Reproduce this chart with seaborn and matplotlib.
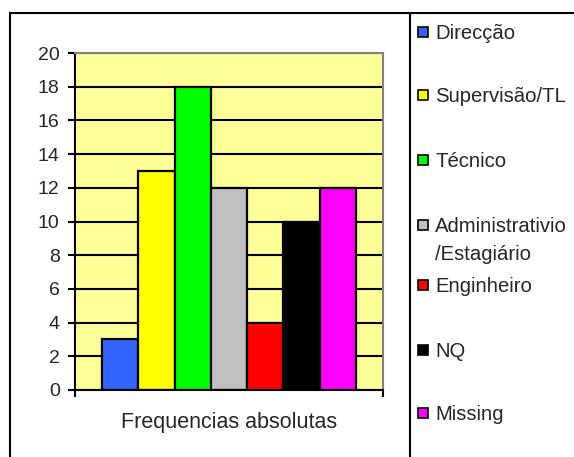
import matplotlib
matplotlib.use("Agg")
import matplotlib.pyplot as plt
from matplotlib.patches import Rectangle
from matplotlib.lines import Line2D
import seaborn as sns
import pandas as pd

# dados
categorias = ['Direcção', 'Supervisão/TL', 'Técnico', 'Administrativio\n/Estagiário',
              'Enginheiro', 'NQ', 'Missing']
valores = [3, 13, 18, 12, 4, 10, 12]
cores = ['#3366FF', '#FFFF00', '#00FF00', '#C0C0C0', '#FF0000', '#000000', '#FF00FF']
grupo = 'Frequencias absolutas'
y_ticks = [0, 2, 4, 6, 8, 10, 12, 14, 16, 18, 20]

df = pd.DataFrame({'grupo': [grupo] * len(valores), 'valor': valores, 'categoria': categorias})

sns.set_style('white')
plt.rcParams['font.family'] = ['Liberation Sans', 'DejaVu Sans']

W, H = 574, 457
fig = plt.figure(figsize=(W / 100, H / 100), dpi=100)

def fx(px):
    return px / W

def fy(py):
    return 1 - py / H

FS = 15.5      # tamanho da letra (pt)
FS_LEG = 14.6  # legenda, um pouco menor para caber

# area do grafico
ax = fig.add_axes([fx(75), fy(390), fx(383) - fx(75), fy(53) - fy(390)])
ax.set_facecolor('#FFFF99')
sns.barplot(data=df, x='grupo', y='valor', hue='categoria', palette=cores,
            hue_order=categorias, width=0.8, edgecolor='black', linewidth=1.6,
            saturation=1, legend=False, ax=ax)

ax.set_ylim(0, 20)
ax.set_xlim(-0.485, 0.485)
ax.set_yticks(y_ticks)
ax.yaxis.grid(True, color='black', linewidth=1.5)
ax.set_axisbelow(True)
ax.set_xlabel('')
ax.set_ylabel('')

for s in ['top', 'right']:
    ax.spines[s].set_color('#808080')
    ax.spines[s].set_linewidth(1.5)
for s in ['left', 'bottom']:
    ax.spines[s].set_color('black')
    ax.spines[s].set_linewidth(1.5)

ax.tick_params(axis='y', direction='out', length=5, width=1.5, color='black',
               labelsize=14, pad=6, left=True)
ax.tick_params(axis='x', which='major', length=0, labelsize=FS, pad=16)
ax.set_xticks([-0.485, 0.485], minor=True)
ax.tick_params(axis='x', which='minor', direction='out', length=5, width=1.5,
               color='black', bottom=True)

# moldura
fig.add_artist(Line2D([fx(10), fx(10)], [fy(13), 0], color='black', lw=1.5))
fig.add_artist(Line2D([fx(10), 1], [fy(13), fy(13)], color='black', lw=1.5))
fig.add_artist(Line2D([fx(410), fx(410)], [fy(13), 0], color='black', lw=1.5))

# legenda
leg_y = [32, 95, 160, 225, 285, 350, 413]
em = FS_LEG * 100 / 72
for cat, cor, yy in zip(categorias, cores, leg_y):
    fig.add_artist(Rectangle((fx(418), fy(yy + 5)), fx(10), fy(yy - 5) - fy(yy + 5),
                             facecolor=cor, edgecolor='black', linewidth=1.2,
                             transform=fig.transFigure))
    for i, linha in enumerate(cat.split('\n')):
        fig.text(fx(435), fy(yy + 0.36 * em + i * 28), linha, fontsize=FS_LEG,
                 va='baseline', ha='left')

fig.savefig('out.png', dpi=100)
